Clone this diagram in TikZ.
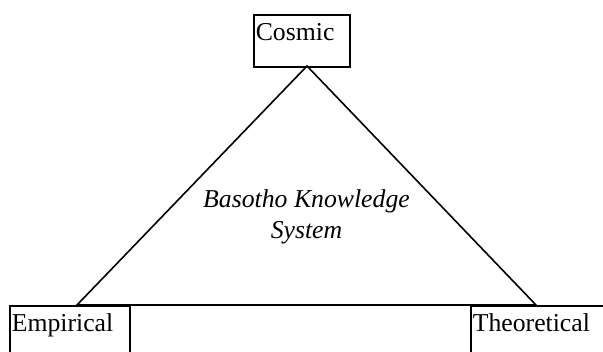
\documentclass[tikz,border=0pt]{standalone}
\usepackage{fontspec}
\setmainfont{Liberation Serif}
\usetikzlibrary{positioning}

\begin{document}
\begin{tikzpicture}[
    % GLOBAL CFG
    x=0.75pt, y=-0.75pt,
    font=\fontsize{19.3}{23.2}\selectfont,
    % Styles
    corner/.style={% For the three boxes
        rectangle,
        draw,
        line width=1.2pt,
        anchor=north west,
        inner sep=1.5pt,
        align=left,
        text height=18pt,
        text depth=18pt,
        },
    edge/.style={% For the triangle
        line width=1.2pt,
        },
    inner/.style={% For the text inside
        font=\fontsize{19.3}{23.2}\selectfont\itshape,
        align=center,
        inner sep=0pt,
        }
    ]

%Start drawing the thing...
    % Page frame
    \clip (0,0) rectangle (603,352);

    % Draw the boxes
    \node [corner, text width=69pt] (cosmic) at (253,14) {Cosmic};
    \node [corner, text width=87pt] (empirical) at (9,305) {Empirical};
    \node [corner, text width=102pt] (theoretical) at (470,305) {Theoretical};

    % Corners of the triangle
    \coordinate (apex) at (307,66);
    \coordinate (left) at (77,305);
    \coordinate (right) at (536,305);

    % Text in the middle
    \node [inner] (bks) at (306.5,217) {Basotho Knowledge\\System};

    % Drawing the triangle
    \draw [edge] (apex) -- (left) -- (right) -- cycle;

\end{tikzpicture}
\end{document}
